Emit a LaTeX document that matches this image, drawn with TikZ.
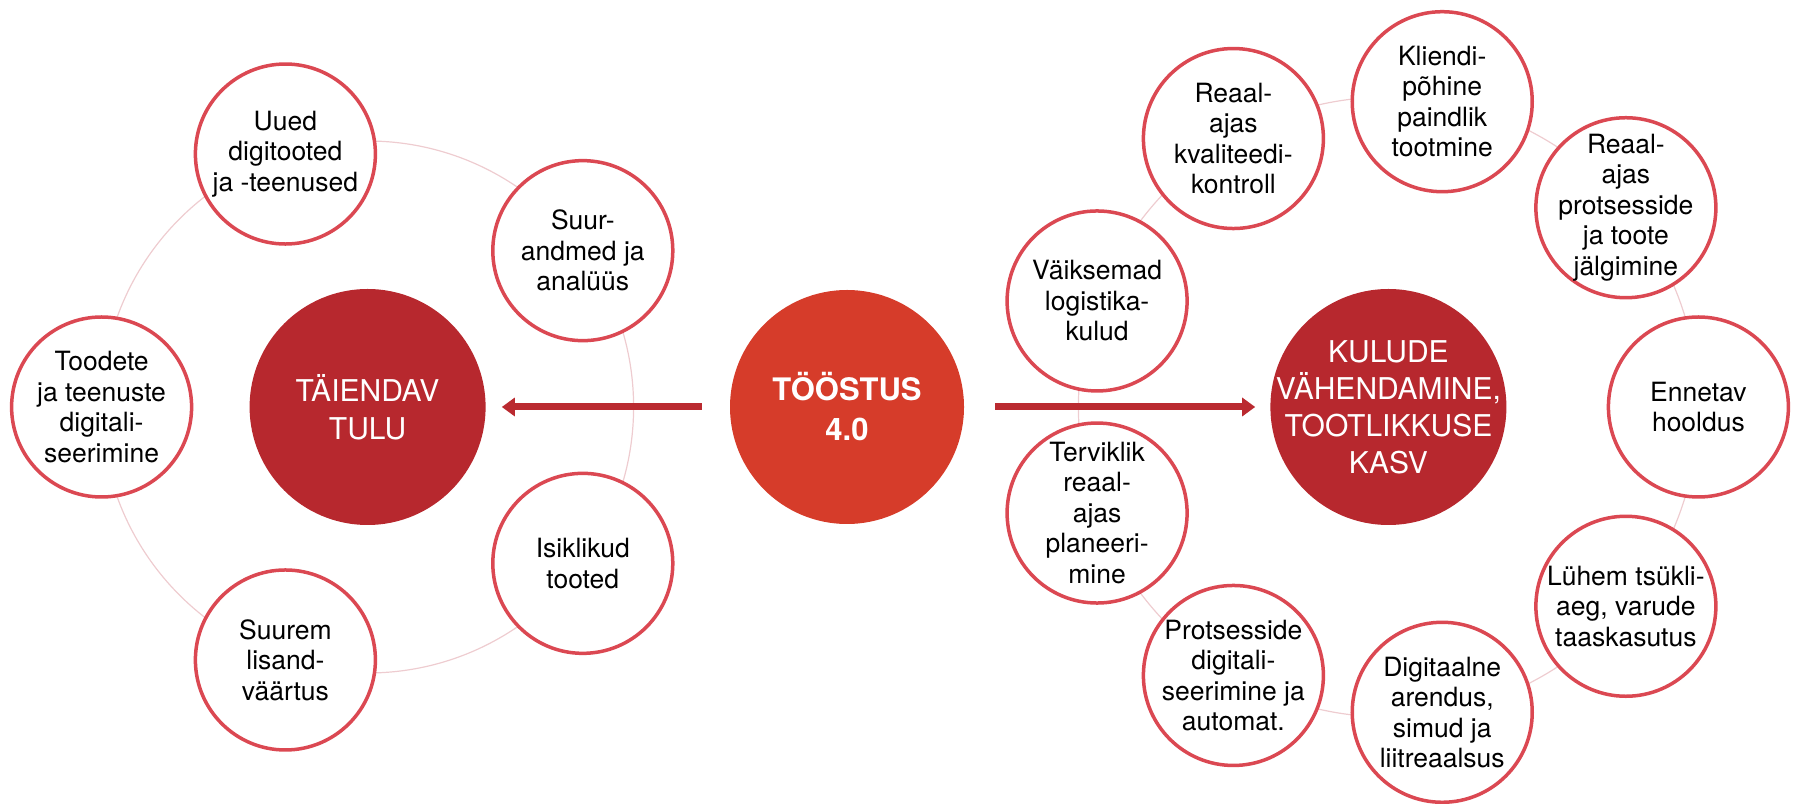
\documentclass[tikz,border=0pt]{standalone}
\usepackage{fontspec}
\setmainfont{TeX Gyre Heros}
\usetikzlibrary{positioning,arrows.meta}

\definecolor{hubred}{RGB}{183,40,46}
\definecolor{corered}{RGB}{214,60,42}
\definecolor{edgered}{RGB}{219,72,82}
\definecolor{ringpink}{RGB}{238,204,208}
\definecolor{arrowred}{RGB}{186,42,48}
\newcommand{\subfont}{\fontsize{26.5}{30.5}\selectfont}

\tikzset{
  hub/.style={circle, fill=hubred, minimum size=236pt, inner sep=0pt},
  hubtext/.style={align=center, text=white},
  sub/.style={circle, draw=edgered, line width=3.5pt, fill=white, minimum size=180pt, inner sep=0pt},
  subtext/.style={align=center, font=\subfont},
  ring/.style={draw=ringpink, line width=1.2pt},
  bigarrow/.style={draw=arrowred, line width=7pt, -{Triangle[length=13pt,width=18pt]}}
}

\begin{document}
\begin{tikzpicture}[x=1pt,y=1pt]
  \useasboundingbox (0,0) rectangle (1793,803);

  % three big circles
  \node[circle, fill=corered, minimum size=234pt, inner sep=0pt, text=white, align=center,
        font=\fontsize{31}{40}\selectfont\bfseries] (core) at (847,396) {TÖÖSTUS\\4.0};
  \node[hub, left=244pt of core,
        label={[hubtext, font=\fontsize{30}{38}\selectfont]center:{TÄIENDAV\\TULU}}] (tulu) {};
  \node[hub, right=306pt of core,
        label={[hubtext, font=\fontsize{30}{37}\selectfont]center:{KULUDE\\VÄHENDAMINE,\\TOOTLIKKUSE\\KASV}}] (kulud) {};

  % rings behind the small circles
  \draw[ring] (tulu) circle[radius=266];
  \draw[ring] (kulud) circle[radius=310];

  \draw[bigarrow, shorten <=28pt, shorten >=16pt] (core) -- (tulu);
  \draw[bigarrow, shorten <=31pt, shorten >=15pt] (core) -- (kulud);

  % left side
  \node[sub, label={[subtext]center:{Toodete\\ja teenuste\\digitali-\\seerimine}}] (toodete) at ([shift={(180:266)}]tulu.center) {};
  \node[sub, label={[subtext]center:{Uued\\digitooted\\ja -teenused}}] (uued) at ([shift={(108:266)}]tulu.center) {};
  \node[sub, label={[subtext]center:{Suur-\\andmed ja\\analüüs}}] (suurandmed) at ([shift={(36:266)}]tulu.center) {};
  \node[sub, label={[subtext]center:{Isiklikud\\tooted}}] (isiklikud) at ([shift={(-36:266)}]tulu.center) {};
  \node[sub, label={[subtext]center:{Suurem\\lisand-\\väärtus}}] (suurem) at ([shift={(-108:266)}]tulu.center) {};

  % right side
  \node[sub, label={[subtext]center:{Ennetav\\hooldus}}] (ennetav) at ([shift={(0:310)}]kulud.center) {};
  \node[sub, label={[subtext]center:{Reaal-\\ajas\\protsesside\\ja toote\\jälgimine}}] (jalgimine) at ([shift={(40:310)}]kulud.center) {};
  \node[sub, label={[subtext]center:{Kliendi-\\põhine\\paindlik\\tootmine}}] (kliendi) at ([shift={(80:310)}]kulud.center) {};
  \node[sub, label={[subtext]center:{Reaal-\\ajas\\kvaliteedi-\\kontroll}}] (kvaliteet) at ([shift={(120:310)}]kulud.center) {};
  \node[sub, label={[subtext]center:{Väiksemad\\logistika-\\kulud}}] (logistika) at ([shift={(160:310)}]kulud.center) {};
  \node[sub, label={[subtext]center:{Terviklik\\reaal-\\ajas\\planeeri-\\mine}}] (planeerimine) at ([shift={(200:310)}]kulud.center) {};
  \node[sub, label={[subtext]center:{Protsesside\\digitali-\\seerimine ja\\automat.}}] (automat) at ([shift={(240:310)}]kulud.center) {};
  \node[sub, label={[subtext]center:{Digitaalne\\arendus,\\simud ja\\liitreaalsus}}] (digitaalne) at ([shift={(280:310)}]kulud.center) {};
  \node[sub, label={[subtext]center:{Lühem tsükli-\\aeg, varude\\taaskasutus}}] (tsykliaeg) at ([shift={(320:310)}]kulud.center) {};
\end{tikzpicture}
\end{document}
